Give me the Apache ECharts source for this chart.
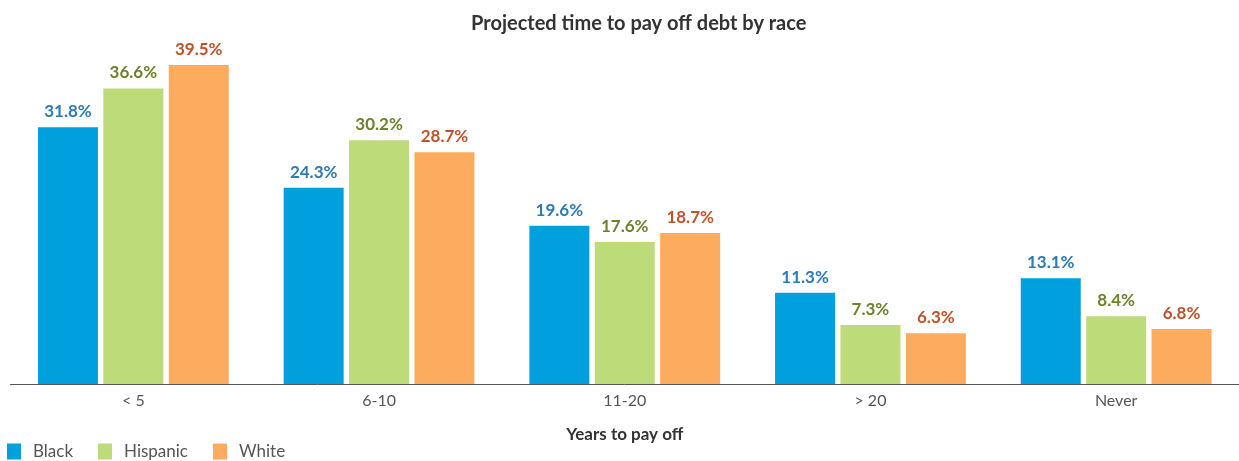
<!DOCTYPE html>
<html>
<head>
<meta charset="utf-8">
<script src="https://cdn.jsdelivr.net/npm/echarts@6/dist/echarts.min.js"></script>
<style>
  html, body { margin: 0; padding: 0; background: #fff; }
  #chart { width: 1239px; height: 461px; }
</style>
</head>
<body>
<div id="chart"></div>
<script>
var categories = ['< 5', '6-10', '11-20', '> 20', 'Never'];
var black = [31.8, 24.3, 19.6, 11.3, 13.1];
var hispanic = [36.6, 30.2, 17.6, 7.3, 8.4];
var white = [39.5, 28.7, 18.7, 6.3, 6.8];

var font = 'Lato';

function makeSeries(name, data, color, labelColor) {
	return {
		name: name,
		type: 'bar',
		data: data,
		barWidth: 60,
		barGap: '9%',
		itemStyle: { color: color },
		label: {
			show: true,
			position: 'top',
			distance: 7,
			formatter: function (p) { return p.value.toFixed(1) + '%'; },
			color: labelColor,
			fontFamily: font,
			fontWeight: 'bold',
			fontSize: 17
		}
	};
}

var chart = echarts.init(document.getElementById('chart'));
chart.setOption({
	animation: false,
	title: {
		text: 'Projected time to pay off debt by race',
		left: 466,
		top: 9,
		textStyle: { fontFamily: font, fontWeight: 'bold', fontSize: 20, color: '#333' }
	},
	legend: {
		left: 2,
		top: 438,
		itemWidth: 14,
		itemHeight: 16,
		itemGap: 25,
		icon: 'rect',
		textStyle: { fontFamily: font, fontSize: 17, color: '#555', padding: [0, 0, 0, 7] }
	},
	grid: { left: 10.5, right: 0, top: 61, bottom: 77 },
	xAxis: {
		type: 'category',
		data: categories,
		name: 'Years to pay off',
		nameLocation: 'middle',
		nameGap: 42,
		nameTextStyle: { fontFamily: font, fontWeight: 'bold', fontSize: 17, color: '#333' },
		axisLine: { lineStyle: { color: '#555', width: 1 } },
		axisTick: {
			length: 8,
			lineStyle: { color: '#333' },
			interval: function (i) { return i !== 0; }
		},
		axisLabel: { fontFamily: font, fontSize: 16, color: '#555', margin: 9 }
	},
	yAxis: {
		type: 'value',
		min: 0,
		max: 40,
		show: false,
		splitLine: { show: false }
	},
	series: [
		makeSeries('Black', black, '#00a0df', '#2e7ab3'),
		makeSeries('Hispanic', hispanic, '#bedb79', '#6e812e'),
		makeSeries('White', white, '#fdab5e', '#bf522a')
	]
});
</script>
</body>
</html>
